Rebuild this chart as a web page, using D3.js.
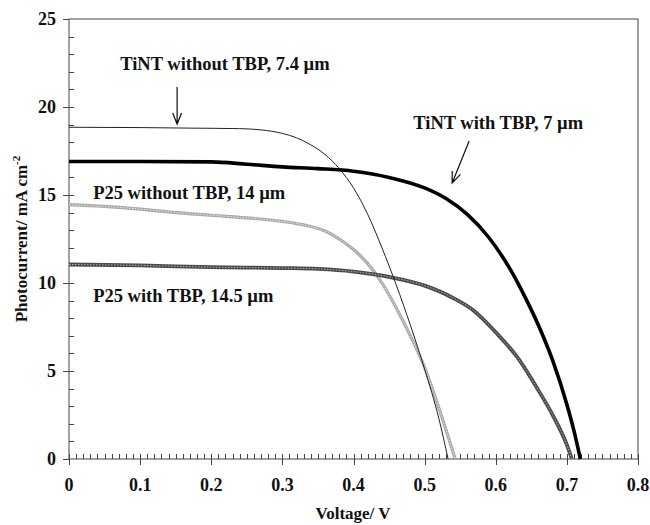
<!DOCTYPE html>
<html>
<head>
<meta charset="utf-8">
<script src="https://cdn.jsdelivr.net/npm/d3@7"></script>
<style>
  body { margin: 0; background: #fff; }
  text { font-family: "Liberation Serif", "Times New Roman", serif; font-weight: bold; fill: #111; }
</style>
</head>
<body>
<svg width="650" height="525"></svg>
<script>
// curves (V in volts, I in mA cm^-2)
const tintNoTbpV = [0, 0.1, 0.17, 0.24, 0.27, 0.30, 0.32, 0.34, 0.36, 0.38, 0.40, 0.42, 0.44, 0.46, 0.48, 0.50, 0.52, 0.533]
const tintNoTbpI = [18.85, 18.83, 18.8, 18.77, 18.7, 18.5, 18.25, 17.85, 17.3, 16.5, 15.4, 13.9, 12.0, 9.9, 7.6, 5.1, 2.3, 0]

const tintTbpV = [0, 0.10, 0.20, 0.25, 0.30, 0.35, 0.40, 0.45, 0.50, 0.53, 0.56, 0.59, 0.62, 0.64, 0.66, 0.68, 0.70, 0.71, 0.719]
const tintTbpI = [16.9, 16.9, 16.88, 16.75, 16.6, 16.5, 16.35, 16.0, 15.4, 14.8, 13.9, 12.6, 10.8, 9.3, 7.6, 5.6, 3.1, 1.6, 0]

const p25NoTbpV = [0, 0.05, 0.10, 0.15, 0.20, 0.25, 0.30, 0.33, 0.36, 0.38, 0.40, 0.42, 0.44, 0.46, 0.48, 0.50, 0.52, 0.543]
const p25NoTbpI = [14.45, 14.35, 14.2, 14.0, 13.85, 13.7, 13.5, 13.3, 12.95, 12.5, 11.9, 11.1, 10.0, 8.6, 7.0, 5.2, 2.9, 0]

const p25TbpV = [0, 0.1, 0.2, 0.3, 0.35, 0.40, 0.45, 0.50, 0.54, 0.57, 0.60, 0.63, 0.66, 0.68, 0.70, 0.707]
const p25TbpI = [11.05, 11.0, 10.9, 10.85, 10.8, 10.65, 10.35, 9.85, 9.15, 8.4, 7.2, 5.8, 3.9, 2.5, 0.8, 0]

const xTicks = [0, 0.1, 0.2, 0.3, 0.4, 0.5, 0.6, 0.7, 0.8]
const yTicks = [0, 5, 10, 15, 20, 25]

const labels = [
    { text: 'TiNT without TBP, 7.4 \u00b5m', v: 0.072, i: 22.1 },
    { text: 'TiNT with TBP, 7 \u00b5m', v: 0.484, i: 18.75 },
    { text: 'P25 without TBP, 14 \u00b5m', v: 0.034, i: 14.77 },
    { text: 'P25 with TBP, 14.5 \u00b5m', v: 0.034, i: 8.92 }
]
const arrows = [
    { v1: 0.152, i1: 21.14, v2: 0.152, i2: 19.03 },
    { v1: 0.5626, i1: 18.07, v2: 0.5387, i2: 15.68 }
]

const svg = d3.select('svg')
const x = d3.scaleLinear().domain([0, 0.8]).range([69, 638])
const y = d3.scaleLinear().domain([0, 25]).range([459, 19])

const zip = (vs, is) => vs.map((v, k) => [v, is[k]])
const line = d3.line().x(d => x(d[0])).y(d => y(d[1])).curve(d3.curveMonotoneX)

// frame
const axisColor = '#444'
svg.append('rect')
    .attr('x', x(0)).attr('y', y(25))
    .attr('width', x(0.8) - x(0)).attr('height', y(0) - y(25))
    .attr('fill', 'none').attr('stroke', axisColor).attr('stroke-width', 1)

// minor ticks
const g = svg.append('g').attr('stroke', axisColor).attr('stroke-width', 1)
g.selectAll('line.xm').data(d3.range(1, 80).map(k => k / 100)).enter().append('line')
    .attr('x1', d => Math.round(x(d)) + 0.5).attr('x2', d => Math.round(x(d)) + 0.5)
    .attr('y1', y(0)).attr('y2', y(0) - 5)
g.selectAll('line.ym').data(d3.range(1, 25)).enter().append('line')
    .attr('y1', d => Math.round(y(d)) + 0.5).attr('y2', d => Math.round(y(d)) + 0.5)
    .attr('x1', x(0)).attr('x2', x(0) + 5)
// major ticks
g.selectAll('line.xM').data(xTicks).enter().append('line')
    .attr('x1', d => Math.round(x(d)) + 0.5).attr('x2', d => Math.round(x(d)) + 0.5)
    .attr('y1', y(0) + 6).attr('y2', y(0) - 5)
g.selectAll('line.yM').data(yTicks).enter().append('line')
    .attr('y1', d => Math.round(y(d)) + 0.5).attr('y2', d => Math.round(y(d)) + 0.5)
    .attr('x1', x(0) - 6).attr('x2', x(0))

svg.selectAll('text.xt').data(xTicks).enter().append('text')
    .attr('x', d => x(d)).attr('y', 491)
    .attr('text-anchor', 'middle').attr('font-size', 18)
    .text(d => d)
svg.selectAll('text.yt').data(yTicks).enter().append('text')
    .attr('x', 56).attr('y', d => y(d) + 6)
    .attr('text-anchor', 'end').attr('font-size', 18)
    .text(d => d)

svg.append('text')
    .attr('x', 353).attr('y', 519)
    .attr('text-anchor', 'middle').attr('font-size', 17)
    .text('Voltage/ V')

const yt = svg.append('text')
    .attr('transform', 'translate(27, 239) rotate(-90)')
    .attr('text-anchor', 'middle').attr('font-size', 17)
yt.append('tspan').text('Photocurrent/ mA cm')
yt.append('tspan').attr('dy', -7).attr('font-size', 11).text('-2')

// curves
const plot = svg.append('g').attr('fill', 'none')

plot.append('path').datum(zip(p25NoTbpV, p25NoTbpI))
    .attr('d', line).attr('stroke', '#a8a8a8').attr('stroke-width', 3.2)
plot.append('path').datum(zip(p25NoTbpV, p25NoTbpI))
    .attr('d', line).attr('stroke', '#e8e8e8').attr('stroke-width', 1)
    .attr('stroke-dasharray', '1.5 1.5')

plot.append('path').datum(zip(p25TbpV, p25TbpI))
    .attr('d', line).attr('stroke', '#4a4a4a').attr('stroke-width', 3.8)
plot.append('path').datum(zip(p25TbpV, p25TbpI))
    .attr('d', line).attr('stroke', '#b0b0b0').attr('stroke-width', 1)
    .attr('stroke-dasharray', '1.5 1.5')

plot.append('path').datum(zip(tintNoTbpV, tintNoTbpI))
    .attr('d', line).attr('stroke', '#222').attr('stroke-width', 1)

plot.append('path').datum(zip(tintTbpV, tintTbpI))
    .attr('d', line).attr('stroke', '#000').attr('stroke-width', 3.6)

// annotations
svg.selectAll('text.lab').data(labels).enter().append('text')
    .attr('x', d => x(d.v)).attr('y', d => y(d.i))
    .attr('font-size', 18.5)
    .text(d => d.text)

arrows.forEach(a => {
    const x1 = x(a.v1), y1 = y(a.i1), x2 = x(a.v2), y2 = y(a.i2)
    const ang = Math.atan2(y2 - y1, x2 - x1)
    const len = 12, spread = 0.38
    const p = d3.path()
    p.moveTo(x1, y1); p.lineTo(x2, y2)
    p.moveTo(x2 - len * Math.cos(ang - spread), y2 - len * Math.sin(ang - spread))
    p.lineTo(x2, y2)
    p.lineTo(x2 - len * Math.cos(ang + spread), y2 - len * Math.sin(ang + spread))
    svg.append('path').attr('d', p.toString())
        .attr('fill', 'none').attr('stroke', '#111').attr('stroke-width', 1.2)
})
</script>
</body>
</html>
